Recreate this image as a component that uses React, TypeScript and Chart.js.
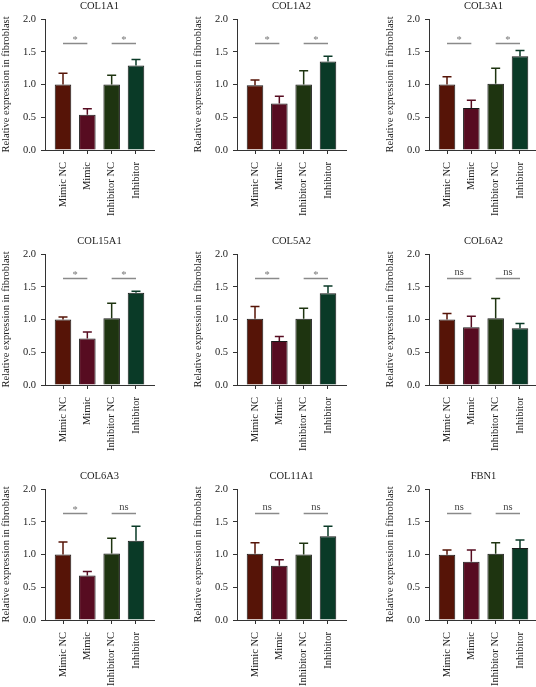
import React, { useEffect, useRef } from "react";
import { Chart, registerables } from "chart.js";

Chart.register(...registerables);

// ---------- data ----------
const categories = ["Mimic NC", "Mimic", "Inhibitor NC", "Inhibitor"];
const genes = ["COL1A1", "COL1A2", "COL3A1", "COL15A1", "COL5A2", "COL6A2", "COL6A3", "COL11A1", "FBN1"];
const yTicks = [0, 0.5, 1.0, 1.5, 2.0];

const col1a1Means = [1.0, 0.54, 1.0, 1.29];
const col1a1Errors = [0.17, 0.09, 0.14, 0.09];
const col1a2Means = [0.99, 0.71, 1.0, 1.35];
const col1a2Errors = [0.08, 0.11, 0.21, 0.08];
const col3a1Means = [1.0, 0.64, 1.01, 1.43];
const col3a1Errors = [0.12, 0.12, 0.24, 0.09];
const col15a1Means = [1.0, 0.71, 1.02, 1.41];
const col15a1Errors = [0.04, 0.1, 0.23, 0.02];
const col5a2Means = [1.01, 0.67, 1.01, 1.4];
const col5a2Errors = [0.19, 0.07, 0.16, 0.11];
const col6a2Means = [1.0, 0.88, 1.02, 0.865];
const col6a2Errors = [0.09, 0.17, 0.3, 0.075];
const col6a3Means = [1.0, 0.68, 1.015, 1.21];
const col6a3Errors = [0.19, 0.06, 0.235, 0.22];
const col11a1Means = [1.01, 0.83, 1.0, 1.28];
const col11a1Errors = [0.17, 0.09, 0.17, 0.15];
const fbn1Means = [0.995, 0.89, 1.01, 1.1];
const fbn1Errors = [0.075, 0.18, 0.17, 0.12];

const allMeans = [col1a1Means, col1a2Means, col3a1Means, col15a1Means, col5a2Means, col6a2Means, col6a3Means, col11a1Means, fbn1Means];
const allErrors = [col1a1Errors, col1a2Errors, col3a1Errors, col15a1Errors, col5a2Errors, col6a2Errors, col6a3Errors, col11a1Errors, fbn1Errors];

const sigLabels = [
  ["*", "*"],
  ["*", "*"],
  ["*", "*"],
  ["*", "*"],
  ["*", "*"],
  ["ns", "ns"],
  ["*", "ns"],
  ["ns", "ns"],
  ["ns", "ns"],
];
const sigPairs = [
  [0, 1],
  [2, 3],
];
const sigLevel = 1.64;

// ---------- styles ----------
const barColors = ["#561407", "#570c21", "#1e3410", "#0a3a27"];
const FONT = "'Liberation Serif', 'DejaVu Serif', serif";
const FS = 10.5;
const PANEL_W = 192;
const PANEL_H = 235;

function Panel({ index }: { index: number }) {
  const ref = useRef<HTMLCanvasElement | null>(null);

  useEffect(() => {
    if (!ref.current) return;
    const gene = genes[index];
    const means = allMeans[index];
    const errors = allErrors[index];
    const sig = sigLabels[index];

    const overlay = {
      id: "overlay" + index,
      afterDatasetsDraw(chart: any) {
        const { ctx, chartArea } = chart;
        const x = chart.scales.x;
        const y = chart.scales.y;
        ctx.save();
        // error bars
        means.forEach((m: number, i: number) => {
          const px = x.getPixelForValue(i);
          const top = y.getPixelForValue(m);
          const et = y.getPixelForValue(m + errors[i]);
          ctx.strokeStyle = barColors[i];
          ctx.lineWidth = 1.5;
          ctx.beginPath();
          ctx.moveTo(px, top);
          ctx.lineTo(px, et);
          ctx.moveTo(px - 4.5, et);
          ctx.lineTo(px + 4.5, et);
          ctx.stroke();
        });
        // significance
        sigPairs.forEach((pair, k) => {
          const x0 = x.getPixelForValue(pair[0]);
          const x1 = x.getPixelForValue(pair[1]);
          const py = Math.round(y.getPixelForValue(sigLevel)) + 0.5;
          ctx.strokeStyle = "#8a8a8a";
          ctx.lineWidth = 1.5;
          ctx.beginPath();
          ctx.moveTo(x0, py);
          ctx.lineTo(x1, py);
          ctx.stroke();
          const label = sig[k];
          ctx.textAlign = "center";
          ctx.textBaseline = "alphabetic";
          if (label === "*") {
            ctx.fillStyle = "#777";
            ctx.font = FS + "px " + FONT;
            ctx.fillText(label, (x0 + x1) / 2, py - 0.5);
          } else {
            ctx.fillStyle = "#444";
            ctx.font = FS + "px " + FONT;
            ctx.fillText(label, (x0 + x1) / 2, py - 4);
          }
        });
        // title
        ctx.fillStyle = "#222";
        ctx.font = FS + "px " + FONT;
        ctx.textAlign = "center";
        ctx.textBaseline = "middle";
        ctx.fillText(gene, (chartArea.left + chartArea.right) / 2, chartArea.top - 13);
        ctx.restore();
      },
    };

    const chart = new Chart(ref.current, {
      type: "bar",
      data: {
        labels: categories,
        datasets: [
          {
            data: means.map((v, i) => ({ x: i, y: v })),
            backgroundColor: barColors,
            borderColor: "#1a1a1a",
            borderWidth: 1,
            barPercentage: 0.68,
            categoryPercentage: 1,
          },
        ],
      },
      options: {
        animation: false,
        responsive: false,
        events: [],
        layout: { padding: { top: 19, right: 38, bottom: 0, left: 0 } },
        plugins: {
          legend: { display: false },
          tooltip: { enabled: false },
          title: { display: false },
        },
        scales: {
          x: {
            type: "linear",
            offset: false,
            min: -0.74,
            max: 3.74,
            afterBuildTicks: (scale: any) => {
              scale.ticks = categories.map((_, i) => ({ value: i }));
            },
            afterFit: (scale: any) => {
              scale.height = PANEL_H - 150;
            },
            grid: {
              display: true,
              offset: false,
              drawOnChartArea: false,
              drawTicks: true,
              tickLength: 4,
              color: "#333",
              lineWidth: 1,
            },
            border: { display: true, color: "#333", width: 1 },
            ticks: {
              autoSkip: false,
              minRotation: 90,
              maxRotation: 90,
              padding: 8,
              color: "#222",
              font: { family: FONT, size: FS },
              callback: (value: any) => categories[value as number],
            },
          },
          y: {
            min: 0,
            max: 2,
            afterBuildTicks: (scale: any) => {
              scale.ticks = yTicks.map((v) => ({ value: v }));
            },
            afterFit: (scale: any) => {
              scale.width = 45;
            },
            grid: {
              display: true,
              drawOnChartArea: false,
              drawTicks: true,
              tickLength: 4,
              color: "#333",
              lineWidth: 1,
            },
            border: { display: true, color: "#333", width: 1 },
            ticks: {
              padding: 5,
              color: "#222",
              font: { family: FONT, size: FS },
              callback: (value: any) => Number(value).toFixed(1),
            },
            title: {
              display: true,
              text: "Relative expression in fibroblast",
              color: "#222",
              font: { family: FONT, size: FS },
              padding: 0,
            },
          },
        },
      },
      plugins: [overlay],
    } as any);

    return () => chart.destroy();
  }, [index]);

  const col = index % 3;
  const row = Math.floor(index / 3);
  return (
    <div
      style={{
        position: "absolute",
        left: col * PANEL_W,
        top: row * PANEL_H,
        width: PANEL_W,
        height: PANEL_H,
      }}
    >
      <canvas ref={ref} width={PANEL_W} height={PANEL_H} style={{ display: "block" }} />
    </div>
  );
}

export default function App() {
  return (
    <div
      style={{
        position: "absolute",
        left: 0,
        top: 0,
        width: 536,
        height: 687,
        overflow: "hidden",
        background: "#fff",
      }}
    >
      {genes.map((_, i) => (
        <Panel key={i} index={i} />
      ))}
    </div>
  );
}
